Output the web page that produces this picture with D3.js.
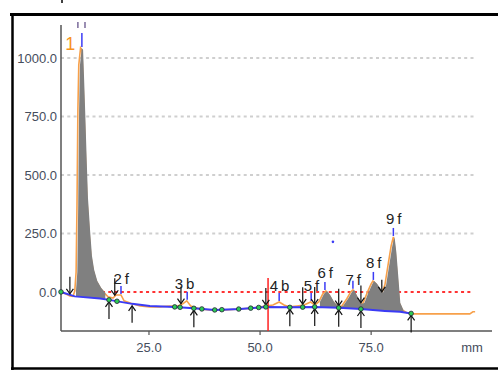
<!DOCTYPE html>
<html>
<head>
<meta charset="utf-8">
<script src="https://cdn.jsdelivr.net/npm/d3@7"></script>
<style>
  body { margin: 0; background: #fff; }
  text { font-family: "Liberation Sans", Arial, sans-serif; }
</style>
</head>
<body>
<script>
// Densitometry trace (position in mm, intensity)
const signalMm = [5.2, 6.3, 7.2, 7.9, 8.3, 8.6, 8.8, 9.0, 9.2, 9.6, 9.9, 10.1, 10.4, 10.7, 11.0, 11.5, 11.9, 12.4, 13.1, 14.0,
    14.9, 15.8, 16.9, 17.6, 18.7, 19.4, 21.2, 23.0, 25.2, 27.5, 29.7, 31.5, 32.6, 33.5, 34.4, 36.5, 38.7, 42.1, 45.5, 48.8,
    51.3, 52.9, 54.3, 55.4, 56.7, 58.3, 59.9, 61.4, 62.3, 63.2, 64.1, 64.8, 65.5, 66.4, 67.5, 68.4, 69.5, 70.4, 70.9, 71.6,
    72.5, 73.2, 74.1, 75.0, 75.4, 76.1, 77.0, 77.4, 78.1, 78.8, 79.5, 80.0, 80.4, 80.9, 81.3, 82.0, 83.1, 84.0, 90.5, 97.2,
    97.9, 98.4];
const signalVal = [0, -9, -17, -19, 4, 85, 372, 778, 970, 1043, 1034, 927, 756, 573, 402, 256, 154, 94, 47, 17,
    -4, -21, -26, -13, -13, -38, -51, -60, -64, -64, -60, -60, -51, -38, -60, -73, -77, -77, -73, -68,
    -60, -56, -43, -56, -64, -60, -56, -43, -56, -43, -9, 4, -13, -43, -64, -60, -30, 0, 9, -17,
    -51, -47, -4, 34, 47, 34, 9, -4, 30, 115, 197, 235, 171, 51, -47, -77, -90, -94, -94, -94,
    -85, -85];

// Baseline
const baseMm = [5.2, 8.3, 14.0, 16.0, 21.2, 25.2, 30.8, 35.1, 39.8, 45.5, 51.3, 56.7, 62.3, 67.7, 72.7, 78.1, 81.5, 84.0];
const baseVal = [0, -19, -28, -34, -51, -60, -64, -70, -77, -73, -64, -66, -64, -68, -73, -81, -85, -92];

// Peaks
const peakNames = ["1", "2 f", "3 b", "4 b", "5 f", "6 f", "7 f", "8 f", "9 f"];
const peakMm = [9.9, 18.7, 33.6, 54.3, 61.5, 64.6, 70.9, 75.5, 80.0];
const peakVal = [1043, -13, -38, -43, -43, 4, 9, 47, 235];

// Integration marks
const downArrowMm = [7.2, 17.3, 32.2, 51.3, 59.6, 62.3, 67.7, 72.7, 77.4];
const upArrowMm = [16.0, 21.2, 35.1, 56.7, 62.3, 67.7, 72.7, 84.0];
const dotMm = [5.2, 16.0, 17.8, 30.8, 32.0, 35.1, 36.9, 39.8, 41.4, 45.2, 47.9, 49.7, 51.3, 56.7, 59.6, 62.3, 67.7, 72.7, 84.0];
const filledSpans = [[8.0, 15.0], [62.5, 82.5]];
const cursorMm = 51.8;

const yTicks = [0, 250, 500, 750, 1000];
const xTicks = [25, 50, 75];

const width = 498, height = 370;

const svg = d3.select("body")
    .append("svg")
    .attr("width", width)
    .attr("height", height);

svg.append("rect").attr("width", width).attr("height", height).attr("fill", "#fff");

const x = d3.scaleLinear().domain([5.2, 102.2]).range([61, 492]);
const y = d3.scaleLinear().domain([-167, 1141]).range([331, 25]);

// baseline and trace as piecewise linear functions of mm
const base = d3.scaleLinear().domain(baseMm).range(baseVal).clamp(true);
const trace = d3.scaleLinear().domain(signalMm).range(signalVal).clamp(true);

const signal = signalMm.map((m, i) => ({ mm: m, v: signalVal[i] }));

// outer frame
svg.append("line").attr("x1", 10).attr("x2", 498).attr("y1", 14.5).attr("y2", 14.5)
    .attr("stroke", "#000").attr("stroke-width", 3);
svg.append("line").attr("x1", 12.5).attr("x2", 12.5).attr("y1", 13).attr("y2", 370)
    .attr("stroke", "#000").attr("stroke-width", 2.5);
svg.append("line").attr("x1", 11).attr("x2", 498).attr("y1", 368.5).attr("y2", 368.5)
    .attr("stroke", "#000").attr("stroke-width", 2.5);
svg.append("line").attr("x1", 62).attr("x2", 62).attr("y1", 0).attr("y2", 3)
    .attr("stroke", "#000").attr("stroke-width", 1.5);

// gridlines
svg.selectAll(".grid")
    .data(yTicks.filter(d => d > 0))
    .enter().append("line")
    .attr("x1", x(5.2)).attr("x2", x(98.4))
    .attr("y1", d => y(d)).attr("y2", d => y(d))
    .attr("stroke", "#cfcfcf").attr("stroke-width", 2).attr("stroke-dasharray", "3,3.3");

svg.append("line")
    .attr("x1", x(13.0)).attr("x2", x(97.9))
    .attr("y1", y(0)).attr("y2", y(0))
    .attr("stroke", "#ff3333").attr("stroke-width", 2).attr("stroke-dasharray", "3,3.3");

// axes
svg.append("line").attr("x1", 61).attr("x2", 61).attr("y1", 25).attr("y2", 331)
    .attr("stroke", "#555").attr("stroke-width", 1.5);
svg.append("line").attr("x1", 61).attr("x2", 492).attr("y1", 331).attr("y2", 331)
    .attr("stroke", "#555").attr("stroke-width", 1.5);

svg.selectAll(".ylab")
    .data(yTicks)
    .enter().append("text")
    .attr("x", 57).attr("y", d => y(d) + 5)
    .attr("text-anchor", "end")
    .attr("font-size", 13).attr("fill", "#454d5c")
    .text(d3.format(".1f"));

svg.selectAll(".xtick")
    .data(xTicks)
    .enter().append("line")
    .attr("x1", d => x(d)).attr("x2", d => x(d))
    .attr("y1", 331).attr("y2", 335)
    .attr("stroke", "#555").attr("stroke-width", 1.2);

svg.selectAll(".xlab")
    .data(xTicks)
    .enter().append("text")
    .attr("x", d => x(d)).attr("y", 352)
    .attr("text-anchor", "middle")
    .attr("font-size", 13).attr("fill", "#454d5c")
    .text(d3.format(".1f"));

svg.append("text").attr("x", 472).attr("y", 352).attr("text-anchor", "middle")
    .attr("font-size", 13).attr("fill", "#454d5c").text("mm");

// trace
svg.append("path")
    .datum(signal)
    .attr("fill", "none")
    .attr("stroke", "#f7a04a")
    .attr("stroke-width", 1.6)
    .attr("d", d3.line().x(d => x(d.mm)).y(d => y(d.v)));

// gray integrated areas
const area = d3.area()
    .x(d => x(d.mm))
    .y0(d => y(base(d.mm)))
    .y1(d => y(Math.max(d.v, base(d.mm))));

filledSpans.forEach(([a, b]) => {
    svg.append("path")
        .datum(signal.filter(d => d.mm >= a && d.mm <= b))
        .attr("fill", "#808080")
        .attr("transform", "translate(1.2,0)")
        .attr("d", area);
});

// baseline
svg.append("path")
    .datum(baseMm)
    .attr("fill", "none")
    .attr("stroke", "#3b3bf5")
    .attr("stroke-width", 2)
    .attr("d", d3.line().x(d => x(d)).y(d => y(base(d))));

// cursor
svg.append("line")
    .attr("x1", x(cursorMm)).attr("x2", x(cursorMm))
    .attr("y1", 278).attr("y2", 331)
    .attr("stroke", "#ff2020").attr("stroke-width", 1.5);

// peak markers
svg.selectAll(".pm")
    .data(peakMm)
    .enter().append("line")
    .attr("x1", d => x(d)).attr("x2", d => x(d))
    .attr("y1", (d, i) => y(peakVal[i]) - (i === 0 ? 15 : 9))
    .attr("y2", (d, i) => y(peakVal[i]) - 1)
    .attr("stroke", "#3b3bf5").attr("stroke-width", 1.5);

svg.selectAll(".top")
    .data([9.0, 10.6])
    .enter().append("line")
    .attr("x1", d => x(d)).attr("x2", d => x(d))
    .attr("y1", 22).attr("y2", 28)
    .attr("stroke", "#7a6a9a").attr("stroke-width", 1.5);

svg.append("circle").attr("cx", x(66.4)).attr("cy", y(214)).attr("r", 1.3).attr("fill", "#3b3bf5");

// arrows
function arrow(xp, tip, len, dir) {
    const g = svg.append("g").attr("stroke", "#111").attr("stroke-width", 1.2).attr("fill", "none");
    g.append("line").attr("x1", xp).attr("x2", xp).attr("y1", tip).attr("y2", tip - dir * len);
    g.append("path").attr("d", `M${xp - 3.5},${tip - dir * 5}L${xp},${tip}L${xp + 3.5},${tip - dir * 5}`);
}

downArrowMm.forEach(m => {
    const tipY = y(Math.max(trace(m), base(m))) - 1;
    arrow(x(m), tipY, m > 77 ? 12 : 17, 1);
});
upArrowMm.forEach(m => {
    arrow(x(m), y(base(m)) + 2, 17, -1);
});

// baseline points
svg.selectAll(".dot")
    .data(dotMm)
    .enter().append("circle")
    .attr("cx", d => x(d)).attr("cy", d => y(base(d)))
    .attr("r", 2.3)
    .attr("fill", "#2ecc55").attr("stroke", "#223").attr("stroke-width", 0.8);

// peak labels
const labelDx = [-12, 0, -3, 0, 0, 0, 0, 0, 0];
const labelDy = [2, -11, -12, -11, -11, -13, -5, -13, -13];
svg.selectAll(".plab")
    .data(peakNames)
    .enter().append("text")
    .attr("x", (d, i) => x(peakMm[i]) + labelDx[i])
    .attr("y", (d, i) => y(peakVal[i]) + labelDy[i])
    .attr("text-anchor", "middle")
    .attr("font-size", (d, i) => i === 0 ? 18 : 15)
    .attr("letter-spacing", "-0.6")
    .attr("fill", (d, i) => i === 0 ? "#f7931e" : "#222")
    .text(d => d);
</script>
</body>
</html>
